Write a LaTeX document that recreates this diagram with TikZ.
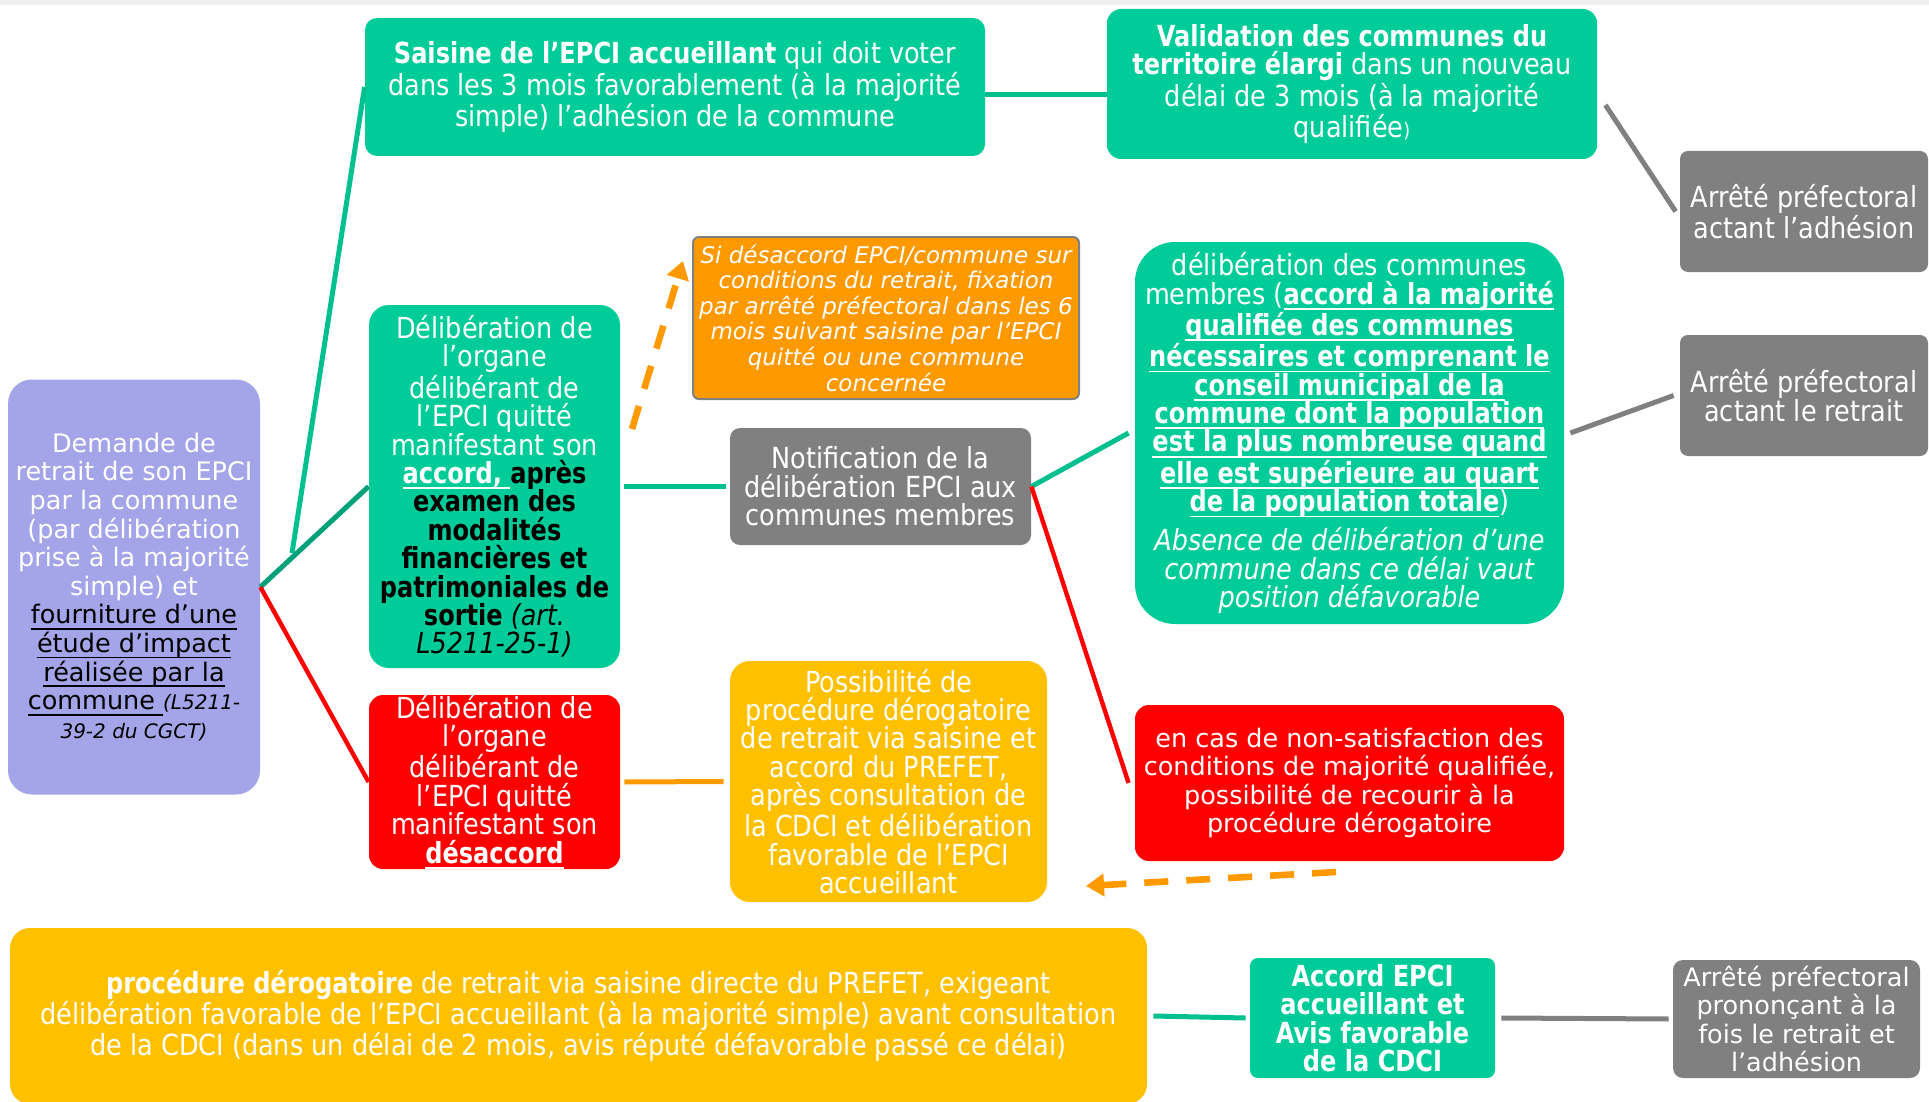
\documentclass[tikz,border=0pt]{standalone}
\usepackage{fontspec}
\setmainfont{DejaVu Sans}
\newfontfamily\cond[FakeStretch=0.88]{DejaVu Sans}
\newfontfamily\condB[FakeStretch=0.83]{DejaVu Sans}
\newcommand\cb[1]{{\condB\bfseries #1}}
\newcommand\ul[1]{\setbox0\hbox{#1}\rlap{\rule[-2.9pt]{\wd0}{0.9pt}}\box0}
\usetikzlibrary{arrows.meta}
\definecolor{purp}{HTML}{A4A4E8}
\definecolor{grn}{HTML}{00CC99}
\definecolor{dgrn}{HTML}{00A07A}
\definecolor{tealln}{HTML}{00C090}
\definecolor{gry}{HTML}{808080}
\definecolor{org}{HTML}{FF9900}
\definecolor{rd}{HTML}{FF0000}
\definecolor{yel}{HTML}{FFC000}
\begin{document}
\begin{tikzpicture}[x=0.5pt,y=-0.5pt,
 box/.style={inner sep=0pt, align=center, text=white},
 cf/.style={font=\cond\fontsize{14.5pt}{14.2pt}\selectfont},
 wf/.style={font=\fontsize{12.75pt}{14.3pt}\selectfont},
 ln/.style={line width=2.5pt},
 dsh/.style={line width=3.3pt, draw=org, dash pattern=on 12pt off 9pt, -{Triangle[width=11pt,length=9pt,fill=org]}}
]
\useasboundingbox (0,0) rectangle (1929,1102);
\fill[black!6] (0,0) rectangle (1929,5);

% boxes
\node[box,wf,fill=purp,minimum width=126pt,minimum height=207.5pt,rounded corners=12pt] (dem) at (134,587)
 {Demande de\\retrait de son EPCI\\par la commune\\(par délibération\\prise à la majorité\\simple) et\\
  \textcolor{black}{\ul{fourniture d’une}}\\
  \textcolor{black}{\ul{étude d’impact}}\\
  \textcolor{black}{\ul{réalisée par la}}\\
  \textcolor{black}{\ul{commune\ }{\fontsize{10pt}{12pt}\selectfont\itshape (L5211-}}\\
  \textcolor{black}{\fontsize{10pt}{12pt}\selectfont\itshape 39-2 du CGCT)}};

\node[box,cf,fill=grn,minimum width=310pt,minimum height=69pt,rounded corners=6pt] (sais) at (675,87)
 {\cb{Saisine de l’EPCI accueillant} qui doit voter\\dans les 3 mois favorablement (à la majorité\\simple) l’adhésion de la commune};

\node[box,fill=grn,minimum width=245pt,minimum height=75pt,rounded corners=7pt,
 font=\cond\fontsize{14.5pt}{13.9pt}\selectfont] (val) at (1352,84)
 {\cb{Validation des communes du}\\\cb{territoire élargi} dans un nouveau\\délai de 3 mois (à la majorité\\qualifiée{\fontsize{10pt}{10pt}\selectfont)}};

\node[box,cf,fill=gry,minimum width=124pt,minimum height=60.5pt,rounded corners=4pt] (adh) at (1804,211.5)
 {Arrêté préfectoral\\actant l’adhésion};

\node[box,fill=org,draw=gry,line width=1pt,minimum width=193pt,minimum height=81pt,rounded corners=3pt,
 font=\fontsize{11.5pt}{12.8pt}\selectfont\itshape] (sides) at (886,318)
 {Si désaccord EPCI/commune sur\\conditions du retrait, fixation\\par arrêté préfectoral dans les 6\\mois suivant saisine par l’EPCI\\quitté ou une commune\\concernée};

\node[box,cf,fill=grn,minimum width=125.5pt,minimum height=181.5pt,rounded corners=10pt] (acc) at (494.5,486.5)
 {Délibération de\\l’organe\\délibérant de\\l’EPCI quitté\\manifestant son\\
  \ul{\cb{accord,\ }}\textcolor{black}{\cb{après}}\\
  \textcolor{black}{\cb{examen des}}\\
  \textcolor{black}{\cb{modalités}}\\
  \textcolor{black}{\cb{financières et}}\\
  \textcolor{black}{\cb{patrimoniales de}}\\
  \textcolor{black}{\cb{sortie} \itshape(art.}\\
  \textcolor{black}{\itshape L5211-25-1)}};

\node[box,cf,fill=gry,minimum width=150.5pt,minimum height=58.5pt,rounded corners=5pt] (notif) at (880.5,486.5)
 {Notification de la\\délibération EPCI aux\\communes membres};

\node[box,cf,fill=grn,minimum width=214.5pt,minimum height=191pt,rounded corners=20pt] (comm) at (1349.5,433)
 {délibération des communes\\membres (\ul{\cb{accord à la majorité}}\\
  \ul{\cb{qualifiée des communes}}\\
  \ul{\cb{nécessaires et comprenant le}}\\
  \ul{\cb{conseil municipal de la}}\\
  \ul{\cb{commune dont la population}}\\
  \ul{\cb{est la plus nombreuse quand}}\\
  \ul{\cb{elle est supérieure au quart}}\\
  \ul{\cb{de la population totale}})\\[4pt]
  \textit{Absence de délibération d’une}\\
  \textit{commune dans ce délai vaut}\\
  \textit{position défavorable}};

\node[box,cf,fill=gry,minimum width=124pt,minimum height=60.5pt,rounded corners=4pt] (ret) at (1804,395.5)
 {Arrêté préfectoral\\actant le retrait};

\node[box,cf,fill=rd,minimum width=125.5pt,minimum height=87pt,rounded corners=7pt] (rdes) at (494.5,782)
 {Délibération de\\l’organe\\délibérant de\\l’EPCI quitté\\manifestant son\\\ul{\cb{désaccord}}};

\node[box,cf,fill=yel,minimum width=158.5pt,minimum height=120.5pt,rounded corners=10pt] (poss) at (888.5,781.5)
 {Possibilité de\\procédure dérogatoire\\de retrait via saisine et\\accord du PREFET,\\après consultation de\\la CDCI et délibération\\favorable de l’EPCI\\accueillant};

\node[box,wf,fill=rd,minimum width=214.5pt,minimum height=78pt,rounded corners=7pt] (encas) at (1349.5,783)
 {en cas de non-satisfaction des\\conditions de majorité qualifiée,\\possibilité de recourir à la\\procédure dérogatoire};

\node[box,fill=yel,minimum width=568.5pt,minimum height=88pt,rounded corners=10pt,
 font=\cond\fontsize{14.5pt}{13.7pt}\selectfont] (proc) at (578.5,1016)
 {\cb{procédure dérogatoire} de retrait via saisine directe du PREFET, exigeant\\délibération favorable de l’EPCI accueillant (à la majorité simple) avant consultation\\de la CDCI (dans un délai de 2 mois, avis réputé défavorable passé ce délai)};

\node[box,cf,fill=grn,minimum width=122.5pt,minimum height=60pt,rounded corners=4pt] (acc2) at (1372.5,1018)
 {\cb{Accord EPCI}\\\cb{accueillant et}\\\cb{Avis favorable}\\\cb{de la CDCI}};

\node[box,wf,fill=gry,minimum width=123.5pt,minimum height=59pt,rounded corners=5pt] (pron) at (1796.5,1019)
 {Arrêté préfectoral\\prononçant à la\\fois le retrait et\\l’adhésion};

% connectors
\draw[ln,dgrn] (dem.east) -- (acc.west);
\coordinate (t0) at (292,553);
\draw[ln,tealln] (t0) -- (sais.west);
\draw[rd,line width=2.2pt] (dem.east) -- (rdes.west);
\draw[ln,tealln] ([yshift=-4pt]sais.east) -- ([yshift=-5.5pt]val.west);
\draw[ln,gry] ([xshift=4pt,yshift=-10.5pt]val.east) -- ([xshift=-2pt]adh.west);
\draw[ln,tealln] ([xshift=2pt]acc.east) -- ([xshift=-2pt]notif.west);
\draw[ln,tealln] (notif.east) -- ([xshift=-3pt]comm.west);
\draw[rd,line width=2.2pt] (notif.east) -- ([xshift=-3pt]encas.west);
\draw[ln,gry] ([xshift=3pt]comm.east) -- ([xshift=-3pt]ret.west);
\draw[ln,org] ([xshift=2pt]rdes.east) -- ([xshift=-3pt]poss.west);
\draw[ln,tealln] ([xshift=3pt]proc.east) -- ([xshift=-2pt]acc2.west);
\draw[ln,gry] ([xshift=3pt]acc2.east) -- ([xshift=-2pt]pron.west);
\coordinate (a1) at (632,429);
\coordinate (a2) at (683,261);
\draw[dsh] (a1) -- (a2);
\coordinate (b1) at (1336,872);
\coordinate (b2) at (1086,886);
\draw[dsh] (b1) -- (b2);
\end{tikzpicture}
\end{document}
